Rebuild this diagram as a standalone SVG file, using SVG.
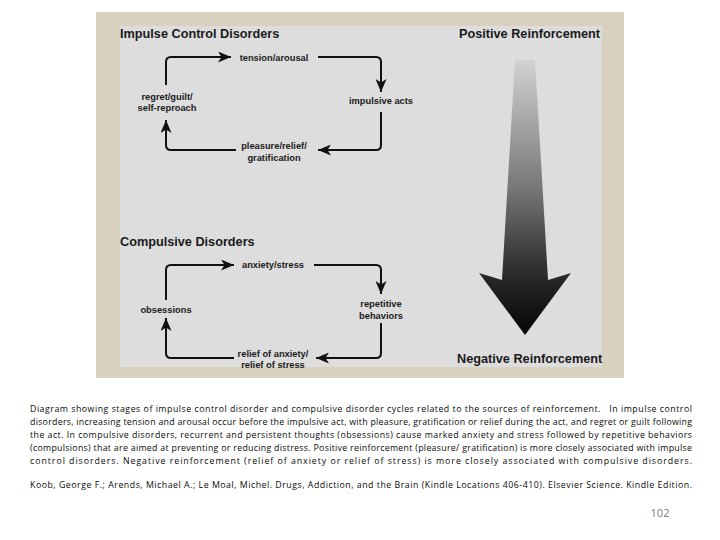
<svg xmlns="http://www.w3.org/2000/svg" width="720" height="540" viewBox="0 0 720 540">
<style>
.title{font-family:"Liberation Sans",Arial,sans-serif;font-weight:bold;font-size:12.7px;fill:#1a1a1a}
.lbl{font-family:"Liberation Sans",Arial,sans-serif;font-weight:bold;font-size:9.3px;fill:#1a1a1a;text-anchor:middle}
.cap{font-family:"Open Sans","Liberation Sans",sans-serif;font-size:8.8px;fill:#0a0a0a}
.conn{fill:none;stroke:#111;stroke-width:2;marker-end:url(#ah)}
</style>
<defs>
<marker id="ah" markerUnits="userSpaceOnUse" viewBox="0 0 13 11" refX="13" refY="5.5" markerWidth="13" markerHeight="11" orient="auto">
<path d="M0,0 L13,5.5 L0,11 L3.5,5.5 z" fill="#111"/>
</marker>
<linearGradient id="grad" gradientUnits="userSpaceOnUse" x1="0" y1="60" x2="0" y2="335">
<stop offset="0" stop-color="#d2d2d2"/>
<stop offset="0.45" stop-color="#7a7a7a"/>
<stop offset="0.8" stop-color="#262626"/>
<stop offset="1" stop-color="#050505"/>
</linearGradient>
</defs>
<rect width="720" height="540" fill="#fff"/>
<rect x="96" y="12" width="528" height="366" fill="#d9d1bf"/>
<rect x="120" y="26" width="482" height="341" fill="#dddddd"/>

<g id="titles">
<text class="title" x="120" y="38">Impulse Control Disorders</text>
<text class="title" x="459" y="38">Positive Reinforcement</text>
<text class="title" x="120" y="246">Compulsive Disorders</text>
<text class="title" x="457" y="363">Negative Reinforcement</text>
</g>

<g id="reinforcement-arrow">
<polygon points="515,60 535,60 548,280 571,273 525,335 479,273 502,280" fill="url(#grad)"/>
</g>

<g id="connectors">
<path class="conn" d="M166,85 V62 Q166,57 171,57 H231"/>
<path class="conn" d="M318,57 H376 Q381,57 381,62 V92"/>
<path class="conn" d="M381,112 V145 Q381,150 376,150 H318"/>
<path class="conn" d="M236,150 H171 Q166,150 166,145 V120"/>
<path class="conn" d="M166,300 V270 Q166,265 171,265 H234"/>
<path class="conn" d="M314,265 H376 Q381,265 381,270 V294"/>
<path class="conn" d="M381,323 V353 Q381,358 376,358 H316"/>
<path class="conn" d="M234,358 H171 Q166,358 166,353 V318"/>
</g>

<g id="n-tension"><text class="lbl" x="274" y="60.5">tension/arousal</text></g>
<g id="n-impulsive"><text class="lbl" x="381" y="103.5">impulsive acts</text></g>
<g id="n-pleasure"><text class="lbl" x="274" y="148.5">pleasure/relief/</text><text class="lbl" x="274" y="160.5">gratification</text></g>
<g id="n-regret"><text class="lbl" x="167" y="99.5">regret/guilt/</text><text class="lbl" x="167" y="110.5">self-reproach</text></g>

<g id="n-anxiety"><text class="lbl" x="273" y="267.5">anxiety/stress</text></g>
<g id="n-repetitive"><text class="lbl" x="381" y="306.5">repetitive</text><text class="lbl" x="381" y="318.5">behaviors</text></g>
<g id="n-relief"><text class="lbl" x="273" y="356.5">relief of anxiety/</text><text class="lbl" x="273" y="367.5">relief of stress</text></g>
<g id="n-obsessions"><text class="lbl" x="166" y="312.5">obsessions</text></g>

<g id="caption">
<text class="cap" x="30" y="412" textLength="662" lengthAdjust="spacing" xml:space="preserve">Diagram showing stages of impulse control disorder and compulsive disorder cycles related to the sources of reinforcement.   In impulse control</text>
<text class="cap" x="30" y="425" textLength="662" lengthAdjust="spacing">disorders, increasing tension and arousal occur before the impulsive act, with pleasure, gratification or relief during the act, and regret or guilt following</text>
<text class="cap" x="30" y="438" textLength="662" lengthAdjust="spacing">the act. In compulsive disorders, recurrent and persistent thoughts (obsessions) cause marked anxiety and stress followed by repetitive behaviors</text>
<text class="cap" x="30" y="451" textLength="662" lengthAdjust="spacing">(compulsions) that are aimed at preventing or reducing distress. Positive reinforcement (pleasure/ gratification) is more closely associated with impulse</text>
<text class="cap" x="30" y="464" textLength="662" lengthAdjust="spacing">control disorders. Negative reinforcement (relief of anxiety or relief of stress) is more closely associated with compulsive disorders.</text>
<text class="cap" x="30" y="488" textLength="662" lengthAdjust="spacing">Koob, George F.; Arends, Michael A.; Le Moal, Michel. Drugs, Addiction, and the Brain (Kindle Locations 406-410). Elsevier Science. Kindle Edition.</text>
<text x="660" y="517" font-family="'Open Sans','Liberation Sans',sans-serif" font-size="11" fill="#777" text-anchor="middle">102</text>
</g>
</svg>
